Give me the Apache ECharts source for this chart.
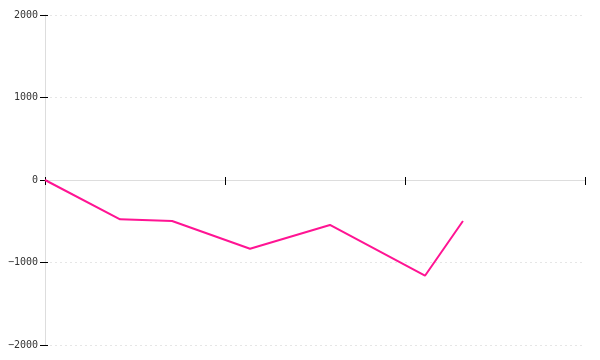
<!DOCTYPE html>
<html>
<head>
<meta charset="utf-8">
<script src="https://cdn.jsdelivr.net/npm/echarts@6/dist/echarts.min.js"></script>
<style>html,body{margin:0;padding:0;background:#fff}#c{width:600px;height:360px}</style>
</head>
<body>
<div id="c"></div>
<script>
var xValues = [0, 0.417, 0.706, 1.139, 1.583, 2.111, 2.322];
var yValues = [0, -477, -497, -833, -545, -1160, -497];
var yTicks = [-2000, -1000, 0, 1000, 2000];

var data = xValues.map(function (x, i) { return [x, yValues[i]]; });
var chart = echarts.init(document.getElementById('c'));
var labelFont = { fontFamily: 'DejaVu Sans Mono', fontSize: 10, color: '#333' };
chart.setOption({
  animation: false,
  grid: { left: 45, right: 15, top: 15, bottom: 15 },
  xAxis: [{
    type: 'value', min: 0, max: 3, interval: 1,
    axisLine: { onZero: true, lineStyle: { color: '#dddddd', width: 1 } },
    axisTick: { show: true, length: 5, lineStyle: { color: '#000' } },
    axisLabel: { show: false },
    splitLine: { show: false }
  }, {
    type: 'value', min: 0, max: 3, interval: 1, position: 'bottom',
    axisLine: { show: false, onZero: true, onZeroAxisIndex: 0 },
    axisTick: { show: true, inside: true, length: 3, lineStyle: { color: '#000' } },
    axisLabel: { show: false }, splitLine: { show: false }
  }],
  yAxis: [{
    type: 'value', min: yTicks[0], max: yTicks[yTicks.length - 1], interval: 1000,
    axisLine: { show: true, lineStyle: { color: '#dddddd', width: 1 } },
    axisTick: { show: true, length: 5, lineStyle: { color: '#000' } },
    axisLabel: Object.assign({ margin: 7, formatter: function (v) { return String(v).replace('-', '\u2212'); } }, labelFont),
    splitLine: { show: true, lineStyle: { color: '#e6e6e6', type: [2, 3] } }
  }, {
    type: 'value', min: yTicks[0], max: yTicks[yTicks.length - 1], interval: 1000, position: 'left',
    axisLine: { show: false },
    axisTick: { show: true, inside: true, length: 3, lineStyle: { color: '#000' } },
    axisLabel: { show: false }, splitLine: { show: false }
  }],
  series: [{
    type: 'line', data: data, showSymbol: false, symbol: 'none',
    lineStyle: { color: '#ff1493', width: 2 }, itemStyle: { color: '#ff1493' }
  }]
});
</script>
</body>
</html>
